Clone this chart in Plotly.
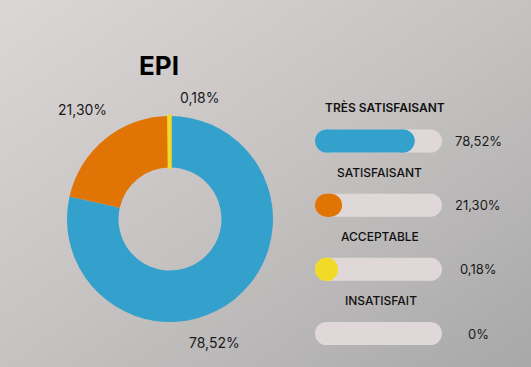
import base64
import numpy as np
import plotly.graph_objects as go

# ---------------- data ----------------
title = "EPI"
categories = ["TRÈS SATISFAISANT", "SATISFAISANT", "ACCEPTABLE", "INSATISFAIT"]
values = [78.52, 21.30, 0.18, 0.0]
colors = ["#34A0CC", "#E07404", "#F2DA28", "#9E9E9E"]
track_color = "#E0D8D8"


def fmt(v):
    return "0%" if v == 0 else f"{v:.2f}".replace(".", ",") + "%"


W, H = 531, 367
FONT = "Inter"

# ---------------- layout constants (pixels) ----------------
donut_box = (67, 114, 273, 324)          # left, top, right, bottom
track_left, track_right = 315, 442
bar_h = 23
row_top_center, row_step = 141, 64.17
label_x = [385, 379, 380, 381]
value_x = 478
donut_label_pos = [(214, 342), (82, 109), (199, 98)]
slice_outline = [0, 0, 3.5, 0]


def px(x):
    return x / W


def py(y):
    return 1 - y / H


# background gradient (svg)
svg = (
    f'<svg xmlns="http://www.w3.org/2000/svg" width="{W}" height="{H}">'
    '<defs><linearGradient id="g" x1="0" y1="0" x2="1" y2="1">'
    '<stop offset="0" stop-color="#DCD7D7"/>'
    '<stop offset="0.5" stop-color="#C6C2C2"/>'
    '<stop offset="1" stop-color="#A8A8A8"/>'
    '</linearGradient></defs>'
    f'<rect width="{W}" height="{H}" fill="url(#g)"/></svg>'
)
bg_uri = "data:image/svg+xml;base64," + base64.b64encode(svg.encode()).decode()

fig = go.Figure()

# ---------------- donut ----------------
fig.add_trace(go.Pie(
    labels=categories,
    values=values,
    hole=0.5,
    sort=False,
    direction="clockwise",
    rotation=0,
    marker=dict(colors=colors, line=dict(width=slice_outline, color=colors)),
    textinfo="none",
    showlegend=False,
    domain=dict(x=[px(donut_box[0]), px(donut_box[2])],
                y=[py(donut_box[3]), py(donut_box[1])]),
))

annotations = [dict(
    text=f"<b>{title}</b>", x=px(159), y=py(65), xref="paper", yref="paper",
    showarrow=False, xanchor="center", yanchor="middle",
    font=dict(family=FONT, size=26, color="#000000", weight=800),
)]
for v, (lx, ly) in zip(values[:3], donut_label_pos):
    annotations.append(dict(
        text=fmt(v), x=px(lx), y=py(ly), xref="paper", yref="paper",
        showarrow=False, xanchor="center", yanchor="middle",
        font=dict(family=FONT, size=14, color="#1a1a1a"),
    ))

# ---------------- progress bars ----------------
track_px = track_right - track_left
r_units = (bar_h / 2) / track_px * 100  # cap radius in data units

tx, ty = [], []
for i in range(len(categories)):
    tx += [r_units, 100 - r_units, None]
    ty += [i, i, None]
fig.add_trace(go.Scatter(
    x=tx, y=ty, mode="lines+markers", xaxis="x", yaxis="y",
    line=dict(color=track_color, width=bar_h),
    marker=dict(color=track_color, size=bar_h, line=dict(width=0)),
    hoverinfo="skip", showlegend=False, cliponaxis=False,
))

for i, (v, c) in enumerate(zip(values, colors)):
    if v <= 0:
        continue
    end = max(v - r_units, r_units)
    fig.add_trace(go.Scatter(
        x=[r_units, end], y=[i, i], mode="lines+markers", xaxis="x", yaxis="y",
        line=dict(color=c, width=bar_h),
        marker=dict(color=c, size=bar_h, line=dict(width=0)),
        hoverinfo="skip", showlegend=False, cliponaxis=False,
    ))

for i, (cat, v) in enumerate(zip(categories, values)):
    annotations.append(dict(
        text=cat, x=px(label_x[i]), y=i, xref="paper", yref="y", yshift=33,
        showarrow=False, xanchor="center", yanchor="middle",
        font=dict(family=FONT, size=12, color="#111111", weight=600 if i == 0 else 500),
    ))
    annotations.append(dict(
        text=fmt(v), x=px(value_x), y=i, xref="paper", yref="y",
        showarrow=False, xanchor="center", yanchor="middle",
        font=dict(family=FONT, size=13, color="#1a1a1a"),
    ))

n = len(categories)
y_top_px = row_top_center - row_step / 2
y_bot_px = row_top_center + row_step * (n - 1) + row_step / 2

fig.update_layout(
    width=W, height=H,
    margin=dict(l=0, r=0, t=0, b=0),
    paper_bgcolor="#C6C2C2",
    plot_bgcolor="rgba(0,0,0,0)",
    xaxis=dict(domain=[px(track_left), px(track_right)], range=[0, 100],
               visible=False, fixedrange=True),
    yaxis=dict(domain=[py(y_bot_px), py(y_top_px)], range=[n - 0.5, -0.5],
               visible=False, fixedrange=True),
    annotations=annotations,
    images=[dict(source=bg_uri, xref="paper", yref="paper", x=0, y=1,
                 sizex=1, sizey=1, sizing="stretch", layer="below",
                 xanchor="left", yanchor="top")],
    showlegend=False,
)

fig.write_html("out.html")
